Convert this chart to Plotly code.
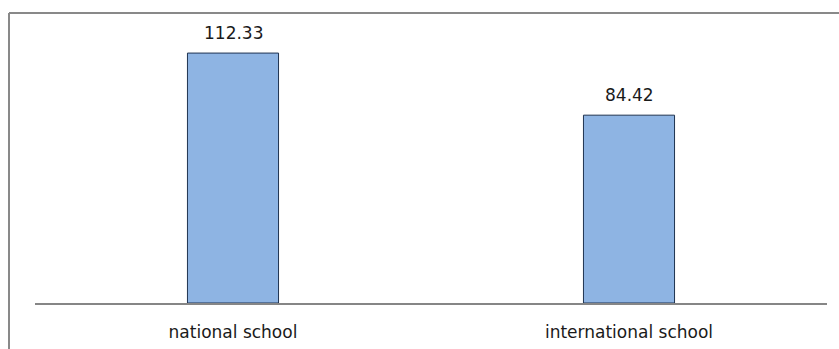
import plotly.graph_objects as go

categories = ["national school", "international school"]
values = [112.33, 84.42]
value_labels = ["112.33", "84.42"]

W, H = 839, 349
L, R, T, B = 35, 12, 36, 46
pw, ph = W - L - R, H - T - B

def px_x(p):
    return (p - L) / pw

def px_y(p):
    return (H - B - p) / ph

fig = go.Figure()
fig.add_trace(go.Bar(
    x=categories, y=values, width=0.23,
    marker=dict(color="#8EB4E3", line=dict(color="#1F3350", width=1)),
    hoverinfo="skip",
))
for c, v, t in zip(categories, values, value_labels):
    fig.add_annotation(x=c, y=v, text=t, showarrow=False, yanchor="bottom", yshift=8,
                       font=dict(family="DejaVu Sans", size=17, color="#1a1a1a"))

frame = "#898989"
fig.add_shape(type="line", xref="paper", yref="paper", x0=px_x(9), x1=px_x(9), y0=px_y(13), y1=px_y(360),
              line=dict(color=frame, width=2))
fig.add_shape(type="line", xref="paper", yref="paper", x0=px_x(9), x1=px_x(845), y0=px_y(13), y1=px_y(13),
              line=dict(color=frame, width=2))

fig.update_layout(
    width=W, height=H, margin=dict(l=L, r=R, t=T, b=B, autoexpand=False),
    paper_bgcolor="white", plot_bgcolor="white", showlegend=False,
    xaxis=dict(showline=True, linecolor="#868686", linewidth=1.5, ticks="", showgrid=False,
               automargin=False,
               tickfont=dict(family="DejaVu Sans", size=17, color="#1a1a1a"), ticklabelstandoff=13),
    yaxis=dict(range=[0, 120], visible=False, showgrid=False, zeroline=False, automargin=False),
)
fig.write_html("out.html")
